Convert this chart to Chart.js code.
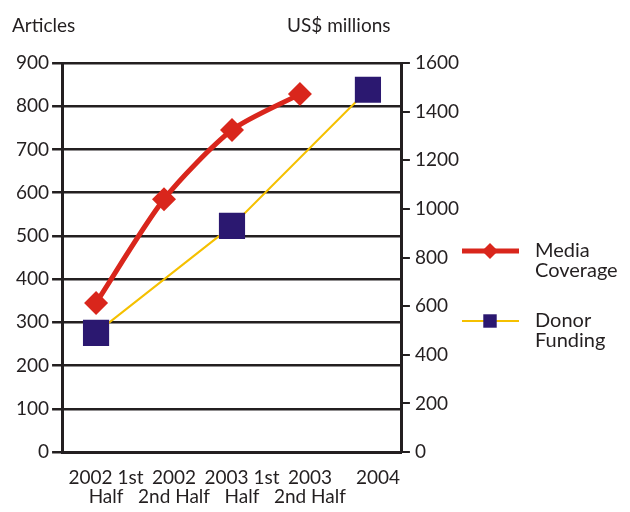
<!DOCTYPE html>
<html>
<head>
<meta charset="utf-8">
<script src="https://cdn.jsdelivr.net/npm/chart.js@4"></script>
<style>
  html, body { margin: 0; padding: 0; background: #fff; }
  #wrap { width: 630px; height: 512px; }
</style>
</head>
<body>
<div id="wrap"><canvas id="chart"></canvas></div>
<script>
// datos
const periods = [['2002 1st', 'Half'], ['2002', '2nd Half'], ['2003 1st', 'Half'], ['2003', '2nd Half'], '2004'];
const mediaCoverage = [345, 585, 745, 828, null];   // artículos
const donorFunding = [490, null, 930, null, 1490];  // US$ millones
const articleTicks = [0, 100, 200, 300, 400, 500, 600, 700, 800, 900];
const fundingTicks = [0, 200, 400, 600, 800, 1000, 1200, 1400, 1600];

const dark = '#231f20';
const font = 'Lato';

// títulos de ejes y leyenda a la derecha
const extras = {
    id: 'extras',
    afterDraw(chart) {
        const c = chart.ctx;
        c.save();
        c.fillStyle = dark;
        c.font = '19px ' + font;
        c.textBaseline = 'alphabetic';
        c.textAlign = 'left';
        c.fillText('Articles', 12, 32);
        c.fillText('US$ millions', 287, 32);

        const items = [
            { ds: chart.data.datasets[0], y: 251, text: ['Media', 'Coverage'], r: 8 },
            { ds: chart.data.datasets[1], y: 321, text: ['Donor', 'Funding'], r: 9.5 }
        ];
        items.forEach(it => {
            c.strokeStyle = it.ds.borderColor;
            c.lineWidth = it.ds.borderWidth;
            c.beginPath();
            c.moveTo(462, it.y);
            c.lineTo(519, it.y);
            c.stroke();
            c.fillStyle = it.ds.pointBackgroundColor;
            c.beginPath();
            if (it.ds.pointStyle === 'rectRot') {
                c.moveTo(490 - it.r, it.y);
                c.lineTo(490, it.y - it.r);
                c.lineTo(490 + it.r, it.y);
                c.lineTo(490, it.y + it.r);
                c.closePath();
            } else {
                const s = it.r * Math.SQRT1_2;
                c.rect(490 - s, it.y - s, 2 * s, 2 * s);
            }
            c.fill();
            c.fillStyle = dark;
            c.font = '20px ' + font;
            c.fillText(it.text[0], 535, it.y + 6);
            c.fillText(it.text[1], 535, it.y + 26);
        });
        c.restore();
    }
};

const ctx = document.getElementById('chart').getContext('2d');
new Chart(ctx, {
    type: 'line',
    data: {
        labels: periods,
        datasets: [{
            label: 'Media Coverage',
            data: mediaCoverage,
            yAxisID: 'y',
            borderColor: '#d9261c',
            backgroundColor: '#d9261c',
            pointBackgroundColor: '#d9261c',
            pointBorderWidth: 0,
            borderWidth: 5,
            pointStyle: 'rectRot',
            pointRadius: 12,
            tension: 0.25,
            fill: false
        }, {
            label: 'Donor Funding',
            data: donorFunding,
            yAxisID: 'y1',
            borderColor: '#f5c000',
            backgroundColor: '#2b1870',
            pointBackgroundColor: '#2b1870',
            pointBorderWidth: 0,
            borderWidth: 2,
            pointStyle: 'rect',
            pointRadius: 18.5,
            spanGaps: true,
            fill: false
        }]
    },
    options: {
        responsive: true,
        maintainAspectRatio: false,
        animation: false,
        layout: { padding: { top: 63, left: 13, right: 166, bottom: -2 } },
        plugins: {
            legend: { display: false },
            tooltip: { enabled: false }
        },
        scales: {
            x: {
                offset: true,
                grid: { display: false },
                border: { display: true, color: dark, width: 3 },
                ticks: { color: dark, font: { family: font, size: 19, lineHeight: 1.0 }, maxRotation: 0, autoSkip: false, labelOffset: 10, padding: 8 }
            },
            y: {
                position: 'left',
                min: 0, max: 900,
                afterBuildTicks: axis => { axis.ticks = articleTicks.map(v => ({ value: v })); },
                grid: { color: dark, lineWidth: 2.5, tickLength: 10 },
                border: { display: true, color: dark, width: 3 },
                ticks: { color: dark, font: { family: font, size: 19 }, padding: 3 }
            },
            y1: {
                position: 'right',
                min: 0, max: 1600,
                afterBuildTicks: axis => { axis.ticks = fundingTicks.map(v => ({ value: v })); },
                grid: { drawOnChartArea: false, color: dark, lineWidth: 2, tickLength: 8 },
                border: { display: true, color: dark, width: 3 },
                ticks: { color: dark, font: { family: font, size: 19 }, padding: 5, callback: v => String(v) }
            }
        }
    },
    plugins: [extras]
});
</script>
</body>
</html>
